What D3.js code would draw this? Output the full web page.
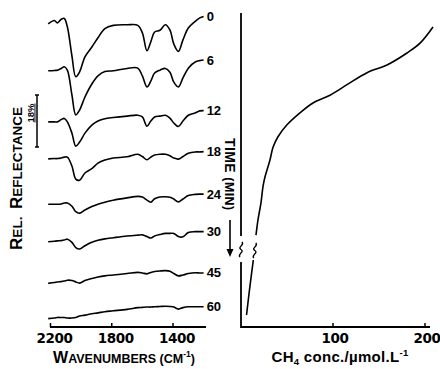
<!DOCTYPE html>
<html>
<head>
<meta charset="utf-8">
<script src="https://cdn.jsdelivr.net/npm/d3@7"></script>
<style>
  body { margin: 0; background: #fff; }
  svg text { font-family: "Liberation Sans", Arial, sans-serif; font-weight: bold; fill: #000; }
  svg text.num { font-family: "DejaVu Sans", sans-serif; }
</style>
</head>
<body>
<svg width="440" height="369"></svg>
<script>
// wavenumber grid (cm-1) shared by all spectra
const wavenumbers = [2215, 2175, 2155, 2130, 2110, 2090, 2060, 2035, 2010, 1975, 1930, 1890, 1845, 1790,
  1700, 1630, 1600, 1570, 1545, 1520, 1485, 1450, 1420, 1395, 1365, 1335, 1300, 1255, 1225, 1200];
const wnTicks = [2200, 1800, 1400];

// spectra: time label, stacking offset (%), reflectance relative to value at 1200 cm-1 (%)
const timeLabels = ["0", "6", "12", "18", "24", "30", "45", "60"];
const offsets = [107.5, 92.4, 74.9, 60.7, 46.0, 33.0, 18.7, 7.0];
const r0 = [-2.6, -1.4, -2.25, -1.0, -0.7, -3.6, -13.7, -20.9, -19.2, -14.0, -10.6, -7.4, -4.2, -3.1, -2.9, -3.1, -5.7, -11.9, -8.8, -5.4, -4.8, -2.9, -4.7, -9.5, -12.1, -8.1, -4.0, -1.7, -0.5, 0];
const r6 = [-3.7, -3.6, -3.5, -2.9, -2.3, -3.5, -12.1, -19.0, -17.3, -12.8, -8.3, -5.5, -4.0, -3.7, -2.9, -2.8, -5.5, -9.3, -7.3, -4.5, -3.5, -2.9, -4.2, -7.6, -9.3, -6.2, -2.8, -0.7, -0.2, 0];
const r12 = [-3.9, -3.9, -3.9, -3.1, -2.7, -3.9, -7.8, -12.3, -10.9, -7.8, -5.0, -3.6, -2.8, -2.4, -1.9, -1.6, -2.2, -5.4, -3.6, -2.2, -1.9, -1.6, -2.6, -4.3, -5.5, -3.6, -1.6, -0.8, -0.1, 0];
const r18 = [-2.5, -2.4, -2.4, -2.2, -1.9, -1.9, -5.0, -9.5, -9.9, -7.4, -5.9, -4.0, -2.9, -2.2, -1.8, -0.9, -1.7, -2.8, -1.9, -1.2, -0.9, -0.9, -1.4, -2.2, -2.6, -1.7, -0.6, -0.1, -0.1, 0];
const r24 = [-3.5, -3.5, -3.5, -3.4, -3.1, -3.1, -4.2, -6.1, -6.6, -5.5, -4.3, -3.5, -2.8, -2.1, -1.3, -0.8, -1.0, -2.1, -2.8, -1.6, -1.0, -0.9, -1.1, -1.7, -2.7, -1.7, -0.5, -0.1, 0, 0];
const r30 = [-3.5, -3.3, -3.2, -3.1, -2.9, -2.6, -3.7, -5.5, -6.0, -4.9, -3.7, -3.0, -2.5, -2.1, -1.5, -1.2, -1.1, -1.7, -2.2, -1.5, -1.0, -0.6, -0.6, -0.6, -1.7, -1.8, -0.3, 0, 0, 0];
const r45 = [-3.6, -3.3, -3.1, -3.0, -2.8, -2.5, -2.6, -3.1, -3.5, -2.6, -1.9, -1.4, -1.0, -0.7, -0.2, 0.2, 0, -0.3, 0.2, 0.5, 0.7, 0.8, 0.6, -0.2, -1.0, -0.7, -0.2, 0.1, 0, 0];
const r60 = [-4.1, -3.9, -3.7, -3.7, -3.7, -3.9, -3.9, -3.7, -3.2, -2.9, -2.4, -2.1, -1.7, -1.4, -0.9, -0.3, -0.2, -0.1, -0.1, 0, 0.1, 0.2, 0.1, -0.1, -0.8, -0.3, 0, 0, 0, 0];
const spectra = [r0, r6, r12, r18, r24, r30, r45, r60];
const scaleBarPct = 18;

// CH4 concentration vs time, before and after the axis break
const timeEarly = [0, 2.3, 3.7, 5.4, 6.5, 8.2, 9.7, 10.8, 12.2, 13.9, 15.6, 17.1, 18.9, 21.3, 22.7, 25, 27.4, 29.6];
const ch4Early = [208.7, 194.6, 180.4, 158.7, 137, 115.2, 96.7, 78.3, 64.1, 50, 40.2, 34.8, 31.5, 26.1, 23.9, 21.7, 18.5, 16.3];
const timeLate = [40.7, 50.2, 60];
const ch4Late = [13.4, 9.6, 6];
const ch4Ticks = [100, 200];

const svg = d3.select("svg");
const axisY = 327;

// ---------- left panel: spectra ----------
const x = d3.scaleLinear().domain([2200, 1400]).range([50.5, 173]);
const y = d3.scaleLinear().domain([0, 110]).range([axisY, 9.2]);

const line = d3.line()
  .x(d => x(d[0]))
  .y(d => y(d[1]))
  .curve(d3.curveCatmullRom.alpha(0.5));

const traces = svg.append("g").attr("class", "spectra");
spectra.forEach((vals, i) => {
  const pts = wavenumbers.map((w, j) => [w, offsets[i] + vals[j]]);
  traces.append("path")
    .attr("d", line(pts))
    .attr("fill", "none")
    .attr("stroke", "#000")
    .attr("stroke-width", 1.6)
    .attr("stroke-linejoin", "round");
  traces.append("text")
    .attr("x", x(1200) + 3)
    .attr("y", y(offsets[i]) + 4.5)
    .attr("font-size", 13)
    .text(timeLabels[i]);
});

// x axis
svg.append("line")
  .attr("x1", 50).attr("x2", 206)
  .attr("y1", axisY).attr("y2", axisY)
  .attr("stroke", "#000").attr("stroke-width", 1.8);
svg.selectAll(".wtick").data(wnTicks).enter().append("line")
  .attr("x1", d => x(d)).attr("x2", d => x(d))
  .attr("y1", axisY).attr("y2", axisY - 4)
  .attr("stroke", "#000").attr("stroke-width", 1.5);
svg.selectAll(".wlab").data(wnTicks).enter().append("text")
  .attr("class", "num")
  .attr("x", d => x(d) + 4)
  .attr("y", 343)
  .attr("text-anchor", "middle")
  .attr("font-size", 13.5)
  .attr("letter-spacing", -0.4)
  .text(d => d);

const xTitle = svg.append("text")
  .attr("x", 124).attr("y", 363)
  .attr("text-anchor", "middle")
  .attr("font-size", 12.5);
xTitle.append("tspan").attr("font-size", 16).text("W");
xTitle.append("tspan").text("AVENUMBERS (CM");
xTitle.append("tspan").attr("font-size", 8.5).attr("dy", -6).text("-1");
xTitle.append("tspan").attr("dy", 6).text(")");

// y title
const yTitle = svg.append("text")
  .attr("transform", "translate(22,178.5) rotate(-90)")
  .attr("text-anchor", "middle")
  .attr("font-size", 13.5)
  .attr("xml:space", "preserve");
yTitle.append("tspan").attr("font-size", 17).text("R");
yTitle.append("tspan").text("EL.  ");
yTitle.append("tspan").attr("font-size", 17).text("R");
yTitle.append("tspan").text("EFLECTANCE");

// 18 % scale bar
const barBottom = 147, barTop = barBottom - (y(0) - y(scaleBarPct));
const bar = svg.append("g").attr("stroke", "#000").attr("stroke-width", 1.5);
bar.append("line").attr("x1", 37).attr("x2", 37).attr("y1", barTop).attr("y2", barBottom);
bar.append("line").attr("x1", 35).attr("x2", 39).attr("y1", barTop).attr("y2", barTop);
bar.append("line").attr("x1", 35).attr("x2", 39).attr("y1", barBottom).attr("y2", barBottom);
svg.append("text")
  .attr("transform", "translate(33.5,113) rotate(-90)")
  .attr("text-anchor", "middle")
  .attr("font-size", 9.5)
  .attr("text-decoration", "underline")
  .text(scaleBarPct + "%");

// ---------- right panel: CH4 vs time ----------
const cx = d3.scaleLinear().domain([0, 200]).range([241, 425]);
const ty = d3.scaleLinear().domain([0, 30, 40, 60]).range([27, 238, 258, 315]);

const cLine = d3.line()
  .x(d => cx(d[0]))
  .y(d => ty(d[1]))
  .curve(d3.curveCatmullRom.alpha(0.5));

svg.append("path")
  .attr("d", cLine(ch4Early.map((c, i) => [c, timeEarly[i]])))
  .attr("fill", "none").attr("stroke", "#000").attr("stroke-width", 1.6);
svg.append("path")
  .attr("d", cLine(ch4Late.map((c, i) => [c, timeLate[i]])))
  .attr("fill", "none").attr("stroke", "#000").attr("stroke-width", 1.6);

const ax = svg.append("g").attr("stroke", "#000").attr("stroke-width", 1.8).attr("fill", "none");
ax.append("line").attr("x1", cx(0)).attr("x2", cx(0)).attr("y1", 13).attr("y2", 236);
ax.append("path").attr("d", `M${cx(0)},262 V${axisY} H430`);
ax.selectAll(".ctick").data(ch4Ticks).enter().append("line")
  .attr("x1", d => cx(d)).attr("x2", d => cx(d))
  .attr("y1", axisY).attr("y2", axisY - 4)
  .attr("stroke-width", 1.5);

// break marks
function squiggle(px, top) {
  return `M${px + 1},${top} C${px + 4},${top + 3} ${px - 4},${top + 5} ${px},${top + 7.5} ` +
    `C${px + 4},${top + 10} ${px - 4},${top + 12} ${px - 1},${top + 15}`;
}
ax.append("path").attr("d", squiggle(cx(0), 242)).attr("stroke-width", 1.4);
ax.append("path").attr("d", squiggle(cx(15), 243)).attr("stroke-width", 1.4);

svg.selectAll(".clab").data(ch4Ticks).enter().append("text")
  .attr("class", "num")
  .attr("x", d => cx(d) + 2)
  .attr("y", 343)
  .attr("text-anchor", "middle")
  .attr("font-size", 13.5)
  .attr("letter-spacing", -0.4)
  .text(d => d);

const cTitle = svg.append("text")
  .attr("x", 340).attr("y", 362)
  .attr("text-anchor", "middle")
  .attr("font-size", 15)
  .attr("letter-spacing", 0.3);
cTitle.append("tspan").text("CH");
cTitle.append("tspan").attr("font-size", 9.5).attr("dy", 3).text("4");
cTitle.append("tspan").attr("dy", -3).text(" conc./\u00b5mol.L");
cTitle.append("tspan").attr("font-size", 9.5).attr("dy", -6).text("-1");

// time label with arrow
const tTitle = svg.append("text")
  .attr("transform", "translate(225,138) rotate(90)")
  .attr("font-size", 14)
  .attr("letter-spacing", 0.4);
tTitle.append("tspan").text("TIME ");
tTitle.append("tspan").attr("font-size", 12.5).text("(MIN)");
svg.append("line")
  .attr("x1", 230).attr("x2", 230).attr("y1", 220).attr("y2", 250)
  .attr("stroke", "#000").attr("stroke-width", 1.6);
svg.append("path")
  .attr("d", "M226.5,249 L233.5,249 L230,257 Z")
  .attr("fill", "#000");
</script>
</body>
</html>
